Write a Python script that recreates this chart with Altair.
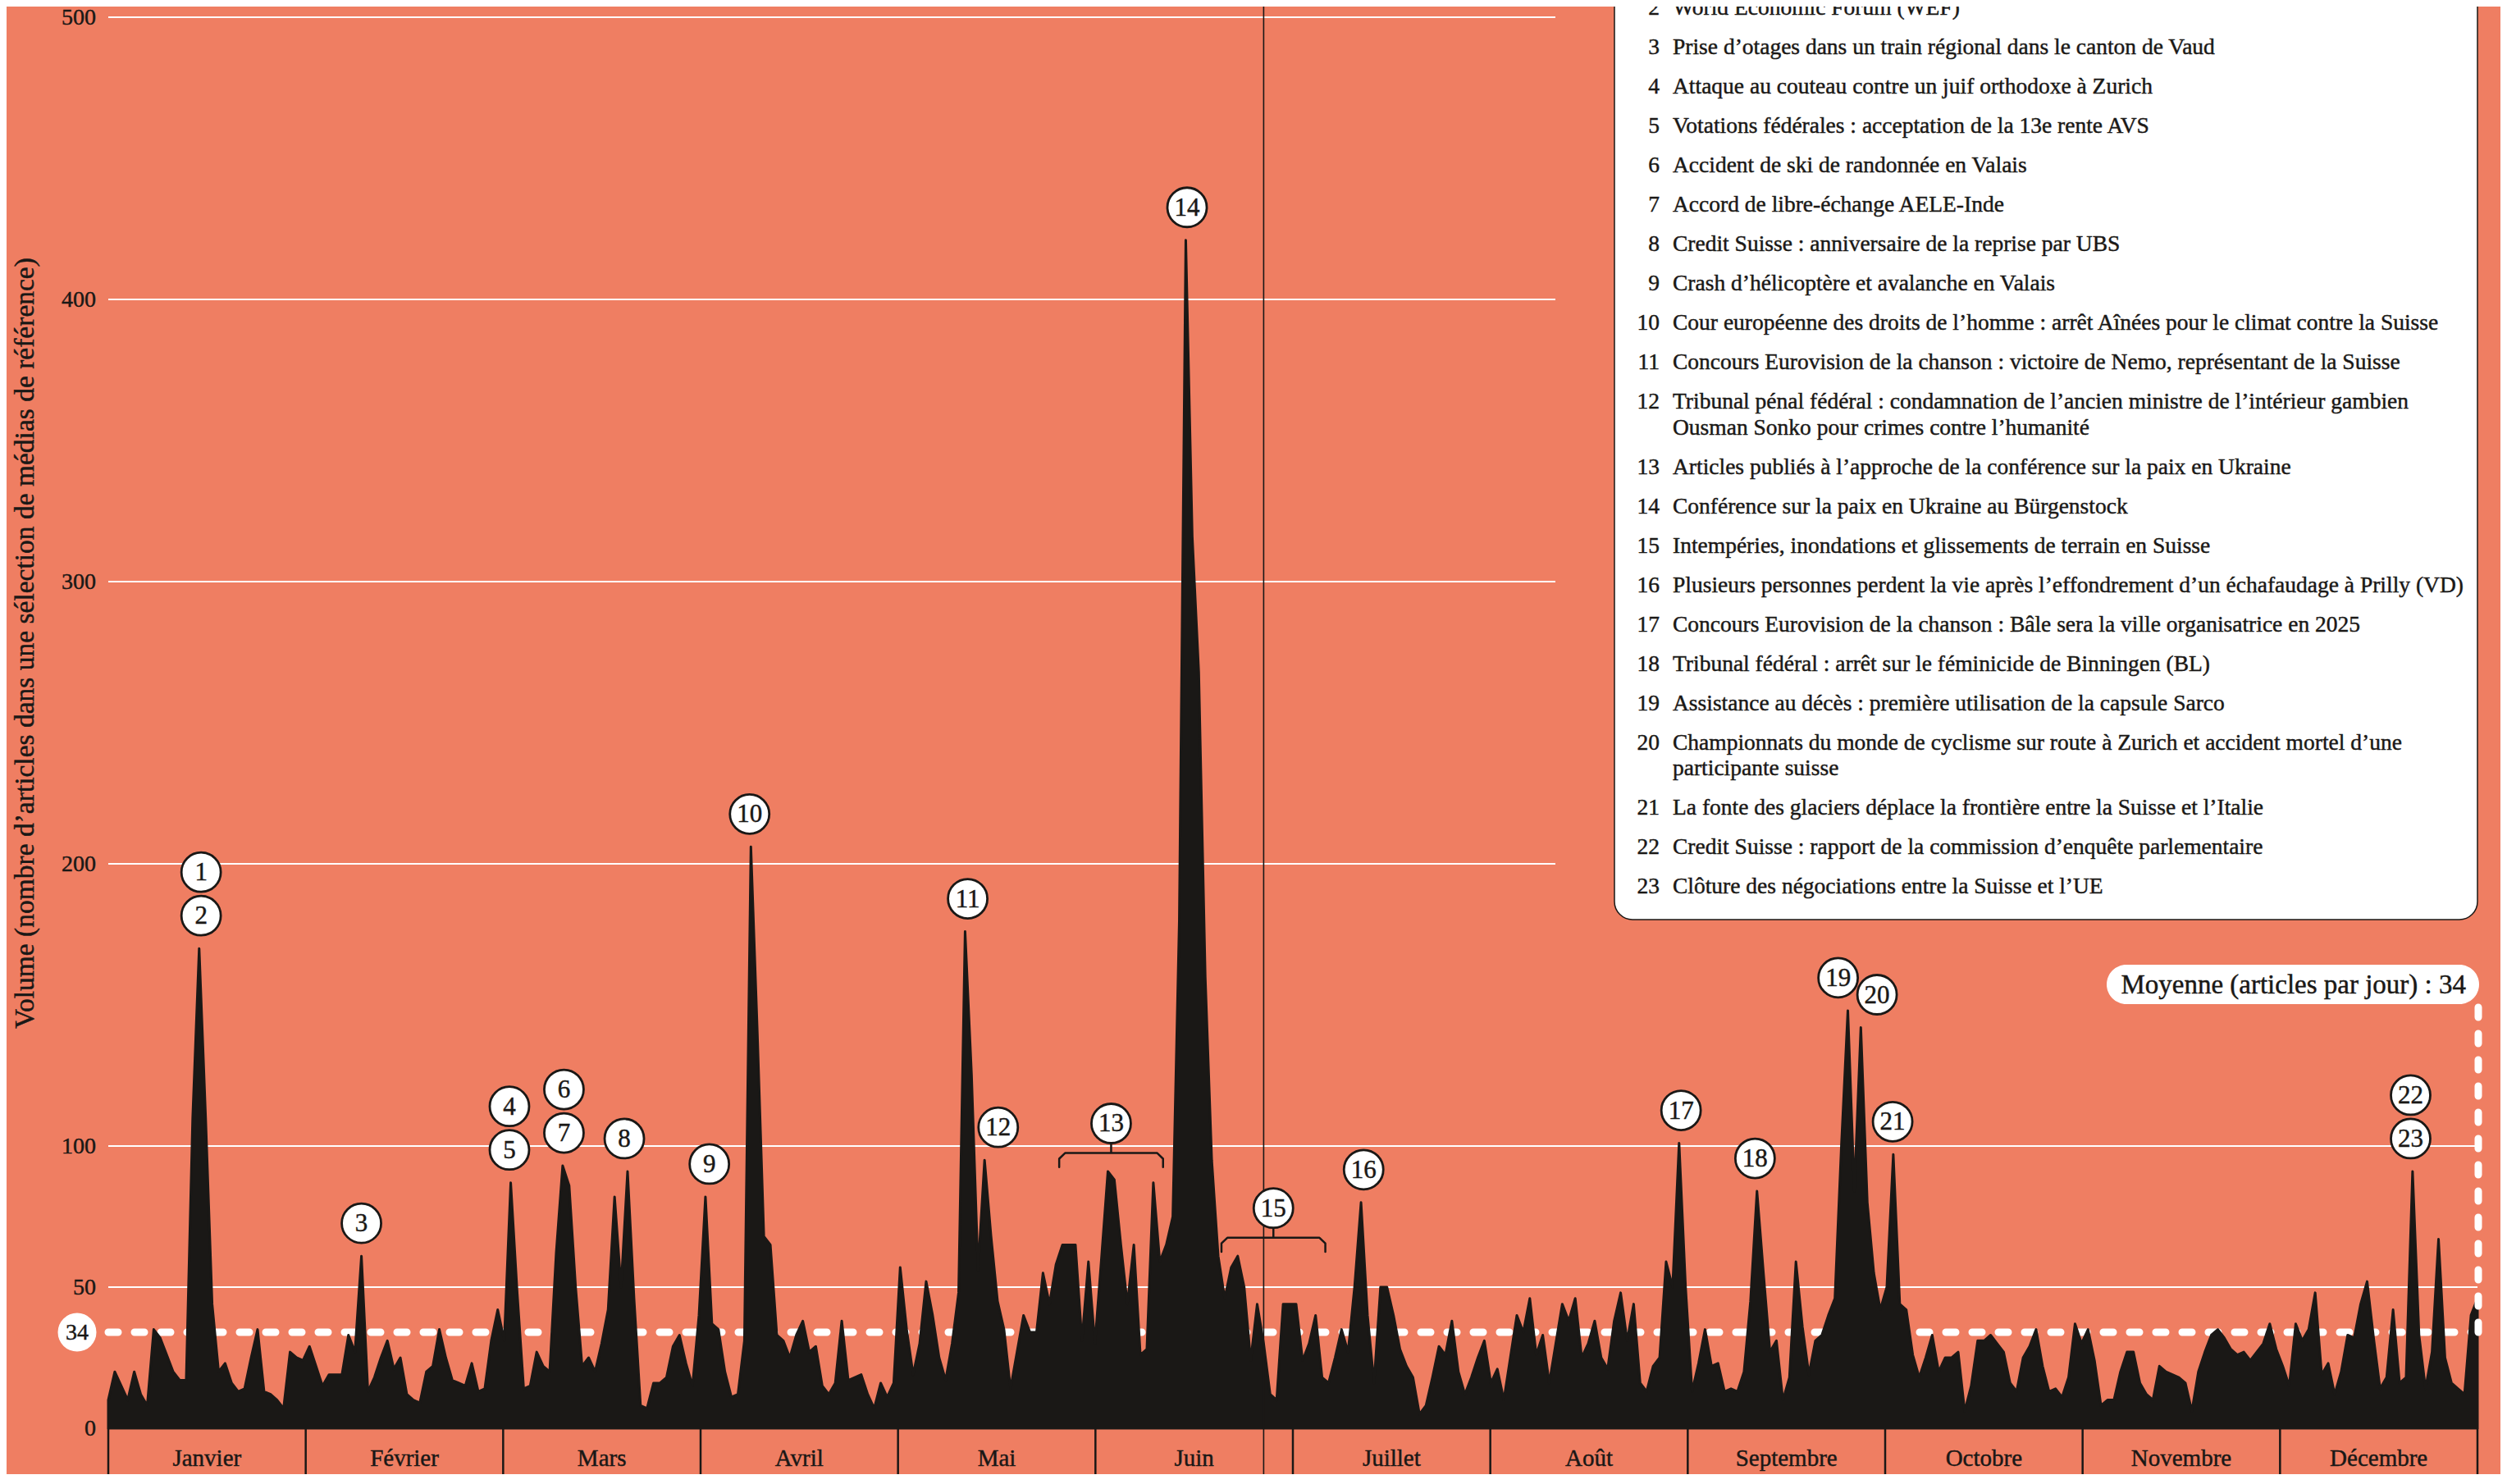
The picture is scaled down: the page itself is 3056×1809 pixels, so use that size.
import altair as alt
import pandas as pd

# ---------------- data ----------------
MONTHS = ["Janvier", "Février", "Mars", "Avril", "Mai", "Juin", "Juillet", "Août",
          "Septembre", "Octobre", "Novembre", "Décembre"]

JAN = [10, 20, 15, 10, 20, 12, 8, 35, 32, 26, 20, 17, 17, 110, 170, 110, 44, 20, 23, 16, 13, 14, 25, 35, 13, 12, 10, 7, 27, 25, 24]
FEB = [29, 22, 15, 19, 19, 19, 33, 27, 61, 13, 18, 25, 31, 21, 25, 12, 10, 9, 20, 22, 35, 25, 17, 16, 15, 23, 13, 14, 31]
MAR = [42, 31, 87, 48, 14, 15, 27, 22, 20, 62, 93, 86, 50, 22, 25, 20, 30, 42, 82, 50, 91, 46, 8, 7, 16, 16, 18, 29, 33, 23, 15]
APR = [40, 82, 37, 35, 20, 11, 12, 31, 206, 140, 68, 65, 33, 31, 25, 33, 38, 27, 29, 15, 12, 16, 38, 17, 18, 19, 12, 7, 16, 11]
MAY = [16, 57, 35, 19, 30, 52, 40, 25, 17, 30, 48, 176, 125, 56, 95, 68, 45, 35, 14, 27, 40, 34, 34, 55, 44, 58, 65, 65, 65, 31, 59]
JUN = [30, 60, 91, 88, 65, 44, 65, 26, 28, 87, 59, 65, 75, 180, 421, 316, 268, 160, 95, 61, 46, 57, 61, 50, 24, 44, 30, 12, 10, 44]
JUL = [44, 44, 24, 30, 40, 18, 16, 25, 35, 27, 50, 80, 40, 16, 50, 50, 40, 28, 22, 18, 5, 8, 18, 29, 26, 38, 20, 12, 18, 25, 31]
AUG = [16, 21, 10, 25, 40, 34, 46, 26, 33, 16, 30, 44, 38, 46, 25, 30, 38, 25, 21, 38, 48, 31, 44, 16, 13, 22, 25, 59, 50, 101, 50]
SEP = [13, 23, 35, 22, 23, 13, 14, 13, 20, 45, 84, 55, 27, 31, 10, 18, 59, 36, 19, 31, 33, 40, 46, 100, 148, 84, 142, 80, 55, 42]
OCT = [50, 97, 44, 42, 26, 18, 25, 33, 20, 25, 25, 27, 6, 15, 31, 31, 33, 30, 27, 16, 13, 25, 29, 35, 22, 13, 14, 11, 18, 37, 30]
NOV = [35, 24, 8, 10, 10, 20, 27, 27, 16, 12, 10, 22, 20, 19, 18, 16, 6, 20, 27, 33, 35, 32, 28, 26, 27, 24, 27, 30, 37, 28]
DEC = [22, 15, 37, 31, 35, 48, 19, 23, 12, 20, 33, 32, 44, 52, 32, 14, 18, 42, 16, 18, 91, 33, 14, 27, 67, 25, 16, 14, 12, 40, 46]
VALUES = JAN + FEB + MAR + APR + MAY + JUN + JUL + AUG + SEP + OCT + NOV + DEC

MEAN = 34
Y_TICKS = [0, 50, 100, 200, 300, 400, 500]
Y_TITLE = "Volume (nombre d’articles dans une sélection de médias de référence)"
MEAN_TEXT = "Moyenne (articles par jour) : "
MARKER_DAY = 178  # thin vertical marker line

# (number, peak day, label day, stack level)
ANNOT = [
    (1, 14, 14.3, 1), (2, 14, 14.3, 0), (3, 39, 39.0, 0), (4, 62, 61.8, 1), (5, 62, 61.8, 0),
    (6, 70, 70.2, 1), (7, 70, 70.2, 0), (8, 80, 79.5, 0), (9, 92, 92.6, 0), (10, 99, 98.8, 0),
    (11, 132, 132.4, 0), (12, 135, 137.1, 0), (14, 166, 166.2, 0), (16, 193, 193.4, 0),
    (17, 242, 242.3, 0), (18, 254, 253.7, 0), (19, 268, 266.5, 0), (20, 270, 272.5, 0),
    (21, 275, 274.9, 0), (22, 355, 354.7, 1), (23, 355, 354.7, 0),
]
# (number, first day, last day) for bracketed periods
RANGES = [(13, 146.5, 162.5), (15, 171.5, 187.5)]

LEGEND_NUMS = list(range(2, 24))
LEGEND_TEXTS = [
    "World Economic Forum (WEF)",
    "Prise d’otages dans un train régional dans le canton de Vaud",
    "Attaque au couteau contre un juif orthodoxe à Zurich",
    "Votations fédérales : acceptation de la 13e rente AVS",
    "Accident de ski de randonnée en Valais",
    "Accord de libre-échange AELE-Inde",
    "Credit Suisse : anniversaire de la reprise par UBS",
    "Crash d’hélicoptère et avalanche en Valais",
    "Cour européenne des droits de l’homme : arrêt Aînées pour le climat contre la Suisse",
    "Concours Eurovision de la chanson : victoire de Nemo, représentant de la Suisse",
    "Tribunal pénal fédéral : condamnation de l’ancien ministre de l’intérieur gambien\nOusman Sonko pour crimes contre l’humanité",
    "Articles publiés à l’approche de la conférence sur la paix en Ukraine",
    "Conférence sur la paix en Ukraine au Bürgenstock",
    "Intempéries, inondations et glissements de terrain en Suisse",
    "Plusieurs personnes perdent la vie après l’effondrement d’un échafaudage à Prilly (VD)",
    "Concours Eurovision de la chanson : Bâle sera la ville organisatrice en 2025",
    "Tribunal fédéral : arrêt sur le féminicide de Binningen (BL)",
    "Assistance au décès : première utilisation de la capsule Sarco",
    "Championnats du monde de cyclisme sur route à Zurich et accident mortel d’une\nparticipante suisse",
    "La fonte des glaciers déplace la frontière entre la Suisse et l’Italie",
    "Credit Suisse : rapport de la  commission d’enquête parlementaire",
    "Clôture des négociations entre la Suisse et l’UE",
]

# ---------------- style / layout ----------------
BG = "#EF7E62"
INK = "#1A1816"
SERIF = "Liberation Serif"
W, H = 2888, 1720
PXU = H / 500.0
NDAYS = len(VALUES)
TXT = dict(font=SERIF, color=INK, stroke=INK, strokeWidth=0.45)

xs = alt.Scale(domain=[0, NDAYS - 1], nice=False, zero=False)
ys = alt.Scale(domain=[0, 500], nice=False)


def px_to_val(px):
    return (H - px) / PXU


def X(field):
    return alt.X(field, type="quantitative", scale=xs, axis=None)


def Y(field):
    return alt.Y(field, type="quantitative", scale=ys, axis=None)


df = pd.DataFrame({"day": list(range(NDAYS)), "value": VALUES})
layers = []

# y gridlines, tick labels and title
ticks = pd.DataFrame({"v": Y_TICKS, "t": [str(v) for v in Y_TICKS]})
layers.append(alt.Chart(ticks).mark_rule(color="white", strokeWidth=2).encode(
    x=alt.value(0), x2=alt.value(W), y=Y("v")))
layers.append(alt.Chart(ticks).mark_text(fontSize=28, align="right", baseline="middle", dy=1, **TXT).encode(
    x=alt.value(-15), y=Y("v"), text="t:N"))
layers.append(alt.Chart(pd.DataFrame({"t": [Y_TITLE]})).mark_text(
    fontSize=33.5, align="center", baseline="middle", angle=270, **TXT).encode(
    x=alt.value(-101), y=alt.value(763), text="t:N"))

# mean dashed line (behind the area)
mean_df = pd.DataFrame({"x": [0], "x2": [NDAYS - 1], "y": [MEAN]})
layers.append(alt.Chart(mean_df).mark_rule(color="white", strokeWidth=9, strokeDash=[12, 20],
                                           strokeCap="round").encode(
    x=X("x"), x2="x2:Q", y=Y("y")))

# area
layers.append(alt.Chart(df).mark_area(color=INK, stroke=INK, strokeWidth=3, strokeJoin="round",
                                      interpolate="linear").encode(x=X("day"), y=Y("value")))

# thin vertical marker
layers.append(alt.Chart(pd.DataFrame({"x": [MARKER_DAY]})).mark_rule(color=INK, strokeWidth=1.6).encode(
    x=X("x"), y=alt.value(-13), y2=alt.value(H + 56)))

# month dividers and labels
bounds = pd.DataFrame({"x": [i * (NDAYS - 1) / 12 for i in range(13)]})
layers.append(alt.Chart(bounds).mark_rule(color=INK, strokeWidth=2.5).encode(
    x=X("x"), y=alt.value(H), y2=alt.value(H + 56)))
mids = pd.DataFrame({"x": [(i + 0.5) * (NDAYS - 1) / 12 for i in range(12)], "m": MONTHS})
layers.append(alt.Chart(mids).mark_text(fontSize=29, baseline="middle", align="center", **TXT).encode(
    x=X("x"), y=alt.value(H + 37), text="m:N"))

# annotation circles
circ_rows = []
for num, peak, lab, lvl in ANNOT:
    circ_rows.append({"num": str(num), "x": lab, "y": VALUES[peak] + (40 + 53 * lvl) / PXU})
br_rows, stem_rows = [], []
for num, a, b in RANGES:
    top = max(VALUES[int(a) + 1:int(b) + 1]) + 6.5
    tip = top - 5
    pts = [(a, tip), (a, top - 2.0), (a + 0.9, top), (b - 0.9, top), (b, top - 2.0), (b, tip)]
    for i, (px, py) in enumerate(pts):
        br_rows.append({"g": str(num), "o": i, "x": px, "y": py})
    mid = (a + b) / 2
    stem_rows.append({"x": mid, "y": top, "y2": top + 4})
    circ_rows.append({"num": str(num), "x": mid, "y": top + 10.5})
circ = pd.DataFrame(circ_rows)
layers.append(alt.Chart(pd.DataFrame(br_rows)).mark_line(color=INK, strokeWidth=2.5, strokeJoin="round",
                                                         strokeCap="round").encode(
    x=X("x"), y=Y("y"), detail="g:N", order="o:Q"))
layers.append(alt.Chart(pd.DataFrame(stem_rows)).mark_rule(color=INK, strokeWidth=2.5).encode(
    x=X("x"), y=Y("y"), y2="y2:Q"))
layers.append(alt.Chart(circ).mark_point(shape="circle", filled=True, fill="white", stroke=INK,
                                         strokeWidth=2.8, size=48 * 48, opacity=1).encode(
    x=X("x"), y=Y("y")))
layers.append(alt.Chart(circ).mark_text(fontSize=31, baseline="middle", align="center", dy=1, **TXT).encode(
    x=X("x"), y=Y("y"), text="num:N"))

# legend panel
layers.append(alt.Chart(pd.DataFrame({"a": [0]})).mark_rect(fill=BG).encode(
    x=alt.value(1764), x2=alt.value(W + 30), y=alt.value(-20), y2=alt.value(1129)))
layers.append(alt.Chart(pd.DataFrame({"a": [0]})).mark_rect(fill="white", stroke=INK, strokeWidth=1.5,
                                                            cornerRadius=22).encode(
    x=alt.value(1836), x2=alt.value(W), y=alt.value(-60), y2=alt.value(1100)))
leg_rows = []
y0, gap, lh = -11.0, 48.0, 31.6
extra = 0
for i, (n, t) in enumerate(zip(LEGEND_NUMS, LEGEND_TEXTS)):
    first = y0 + gap * i + lh * extra
    leg_rows.append({"n": str(n), "t": t, "yv": px_to_val(first)})
    extra += t.count("\n")
leg = pd.DataFrame(leg_rows)
layers.append(alt.Chart(leg).mark_text(fontSize=27.5, align="right", baseline="middle", **TXT).encode(
    x=alt.value(1891), y=Y("yv"), text="n:N"))
layers.append(alt.Chart(leg).mark_text(fontSize=27.5, align="left", baseline="middle", lineBreak="\n",
                                       lineHeight=lh, **TXT).encode(
    x=alt.value(1907), y=Y("yv"), text="t:N"))

# left "34" pill
m_df = pd.DataFrame({"y": [MEAN], "t": [str(MEAN)]})
layers.append(alt.Chart(m_df).mark_point(shape="circle", filled=True, fill="white", opacity=1,
                                         size=47 * 47, strokeWidth=0).encode(x=alt.value(-38), y=Y("y")))
layers.append(alt.Chart(m_df).mark_text(fontSize=28, align="center", baseline="middle", dy=1, **TXT).encode(
    x=alt.value(-38), y=Y("y"), text="t:N"))

# right mean label with vertical dashed connector
layers.append(alt.Chart(m_df).mark_rule(color="white", strokeWidth=9, strokeDash=[12, 20],
                                        strokeCap="round").encode(
    x=alt.value(W + 1), y=Y("y"), y2=alt.value(1206)))
lab_df = pd.DataFrame({"t": [MEAN_TEXT + str(MEAN)]})
layers.append(alt.Chart(lab_df).mark_rect(fill="white", cornerRadius=24).encode(
    x=alt.value(2436), x2=alt.value(W + 2), y=alt.value(1155), y2=alt.value(1203)))
layers.append(alt.Chart(lab_df).mark_text(fontSize=33, align="right", baseline="middle", dy=1, **TXT).encode(
    x=alt.value(2874), y=alt.value(1179), text="t:N"))

chart = alt.layer(*layers).properties(
    width=W, height=H, background=BG,
    padding={"left": 124, "top": 13, "right": 28, "bottom": 56},
    autosize=alt.AutoSizeParams(type="none"),
).configure_view(strokeWidth=0)

chart.save("out.html", embed_options={"renderer": "svg", "actions": False})
